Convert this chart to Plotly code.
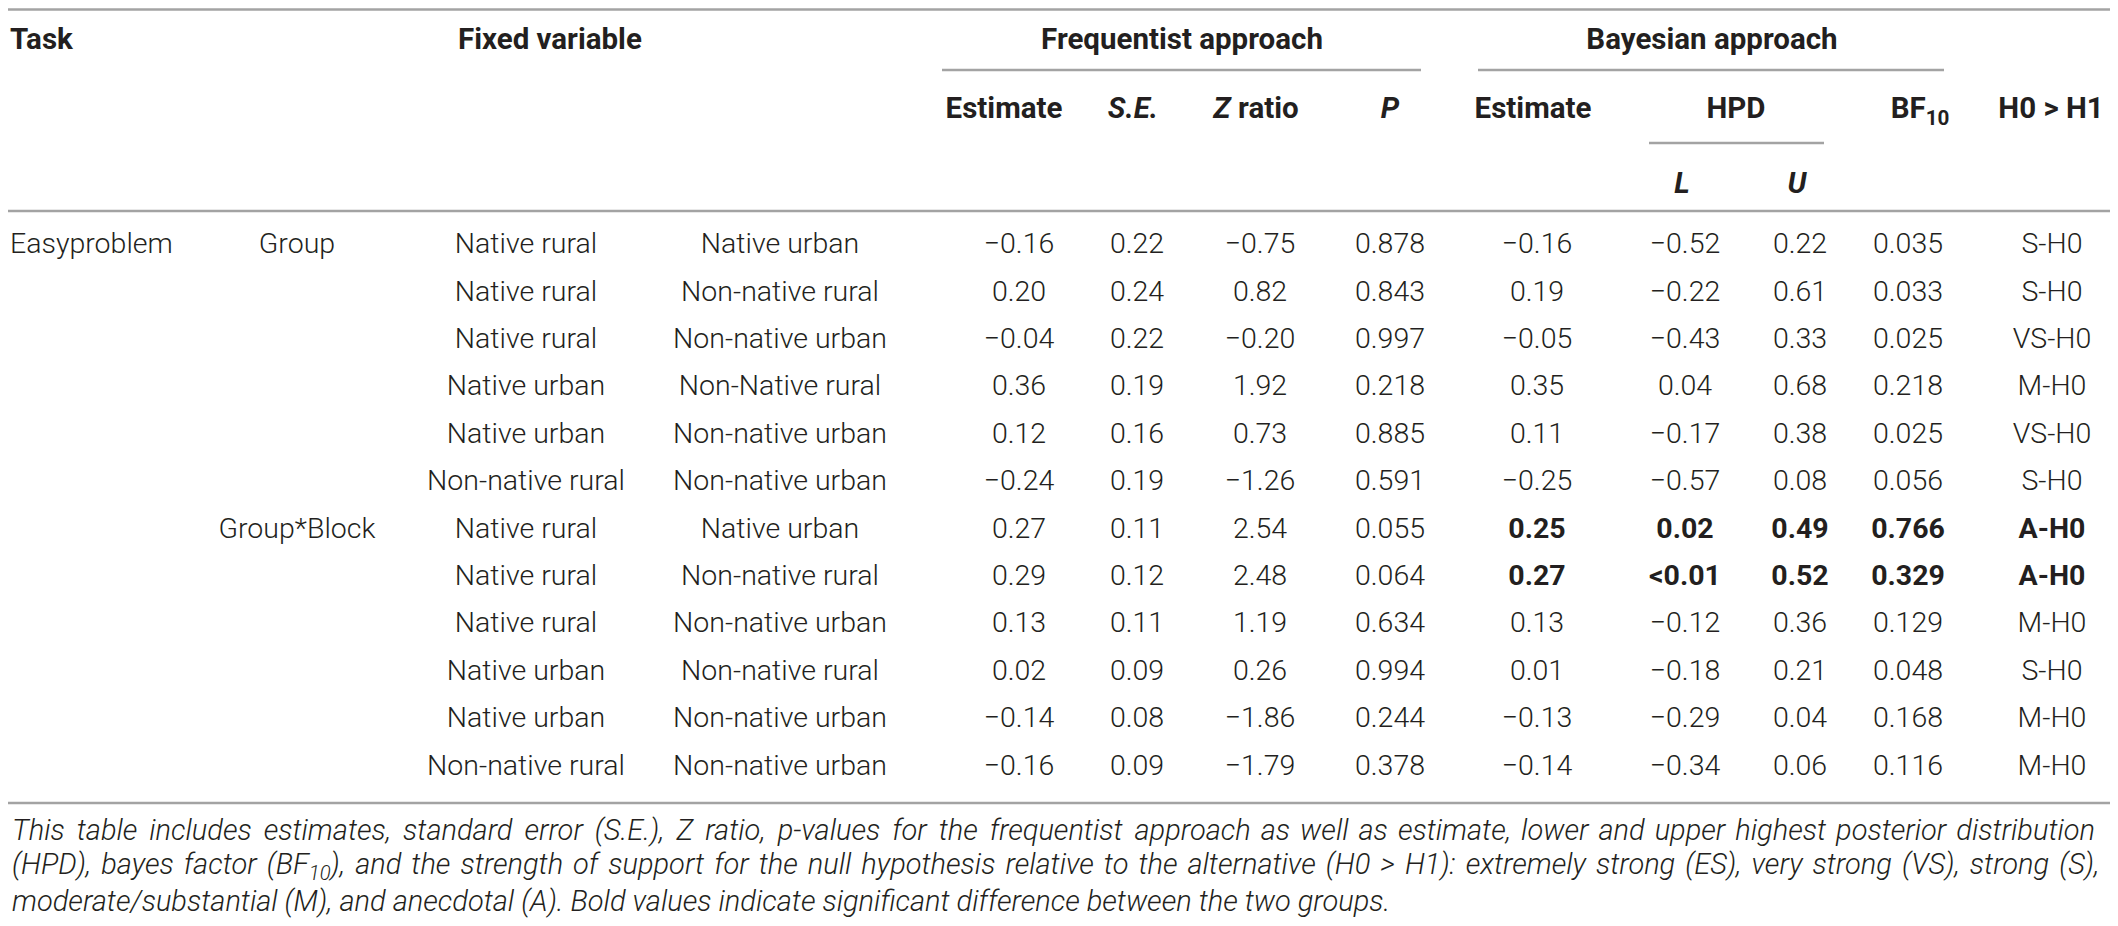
import plotly.graph_objects as go

# ---- table data ----
task = ["Easyproblem"] + [""] * 11
fixed = ["Group", "", "", "", "", "", "Group*Block", "", "", "", "", ""]
level_a = ["Native rural", "Native rural", "Native rural", "Native urban", "Native urban", "Non-native rural",
           "Native rural", "Native rural", "Native rural", "Native urban", "Native urban", "Non-native rural"]
level_b = ["Native urban", "Non-native rural", "Non-native urban", "Non-Native rural", "Non-native urban",
           "Non-native urban", "Native urban", "Non-native rural", "Non-native urban", "Non-native rural",
           "Non-native urban", "Non-native urban"]
freq_est = ["−0.16", "0.20", "−0.04", "0.36", "0.12", "−0.24", "0.27", "0.29", "0.13", "0.02", "−0.14", "−0.16"]
freq_se = ["0.22", "0.24", "0.22", "0.19", "0.16", "0.19", "0.11", "0.12", "0.11", "0.09", "0.08", "0.09"]
z_ratio = ["−0.75", "0.82", "−0.20", "1.92", "0.73", "−1.26", "2.54", "2.48", "1.19", "0.26", "−1.86", "−1.79"]
p_value = ["0.878", "0.843", "0.997", "0.218", "0.885", "0.591", "0.055", "0.064", "0.634", "0.994", "0.244", "0.378"]
bayes_est = ["−0.16", "0.19", "−0.05", "0.35", "0.11", "−0.25", "0.25", "0.27", "0.13", "0.01", "−0.13", "−0.14"]
hpd_low = ["−0.52", "−0.22", "−0.43", "0.04", "−0.17", "−0.57", "0.02", "<0.01", "−0.12", "−0.18", "−0.29", "−0.34"]
hpd_up = ["0.22", "0.61", "0.33", "0.68", "0.38", "0.08", "0.49", "0.52", "0.36", "0.21", "0.04", "0.06"]
bf10 = ["0.035", "0.033", "0.025", "0.218", "0.025", "0.056", "0.766", "0.329", "0.129", "0.048", "0.168", "0.116"]
support = ["S-H0", "S-H0", "VS-H0", "M-H0", "VS-H0", "S-H0", "A-H0", "A-H0", "M-H0", "S-H0", "M-H0", "M-H0"]
bold_rows = [6, 7]  # significant differences (bold in the Bayesian block)

footnote = [
    "This table includes estimates, standard error (S.E.), Z ratio, p-values for the frequentist approach as well as "
    "estimate, lower and upper highest posterior distribution",
    "(HPD), bayes factor (BF<sub>10</sub>), and the strength of support for the null hypothesis relative to the "
    "alternative (H0 &gt; H1): extremely strong (ES), very strong (VS), strong (S),",
    "moderate/substantial (M), and anecdotal (A). Bold values indicate significant difference between the two groups.",
]

# ---- layout constants (page pixel coordinates) ----
W, H = 2118, 926
PAD = 8  # default body margin of the html page
LEFT = PAD + 2
INK = "#231f20"
RULE = "#a3a3a3"
FAM = "Roboto, Liberation Sans, sans-serif"
BODY = dict(family=FAM, size=28.5, color=INK, weight=300)
HEAD = dict(family=FAM, size=29.5, color=INK, weight=700)
NOTE = dict(family=FAM, size=29, color=INK, weight=300)
row_y0, row_dy = 246, 47.4
rows_y = [row_y0 + i * row_dy for i in range(len(level_a))]

columns = [
    (fixed, 297, False), (level_a, 526, False), (level_b, 780, False),
    (freq_est, 1019, False), (freq_se, 1137, False), (z_ratio, 1260, False), (p_value, 1390, False),
    (bayes_est, 1537, True), (hpd_low, 1685, True), (hpd_up, 1800, True), (bf10, 1908, True),
    (support, 2052, True),
]


def justify(line, n_wide):
    # the source lines are justified: widen the word gaps a bit
    # (first n_wide gaps get a six-per-em space, the rest a hair space)
    words = line.split(" ")
    out = words[0]
    for k, w in enumerate(words[1:]):
        out += " " + ("\u2006" if k < n_wide else "\u200a") + w
    return out


fig = go.Figure()

# body cells
fig.add_trace(go.Scatter(x=[LEFT] * len(task), y=rows_y, text=task, mode="text", cliponaxis=False,
                         textposition="middle right", textfont=BODY, hoverinfo="skip"))
for values, cx, can_bold in columns:
    txt = [f"<b>{v}</b>" if (can_bold and i in bold_rows) else v for i, v in enumerate(values)]
    fig.add_trace(go.Scatter(x=[cx] * len(values), y=rows_y, text=txt, mode="text", cliponaxis=False,
                             textposition="middle center", textfont=BODY, hoverinfo="skip"))

# headers
head_left = [("Task", LEFT, 42), ("Fixed variable", 458, 42)]
head_center = [
    ("Frequentist approach", 1182, 42), ("Bayesian approach", 1712, 42),
    ("Estimate", 1004, 111), ("<i>S.E.</i>", 1133, 111), ("<i>Z</i> ratio", 1256, 111), ("<i>P</i>", 1390, 111),
    ("Estimate", 1533, 111), ("HPD", 1736, 111), ("BF<sub>10</sub>", 1920, 111), ("H0 &gt; H1", 2051, 111),
    ("<i>L</i>", 1682, 186), ("<i>U</i>", 1797, 186),
]
fig.add_trace(go.Scatter(x=[h[1] for h in head_left], y=[h[2] for h in head_left],
                         text=[f"<b>{h[0]}</b>" for h in head_left], mode="text", cliponaxis=False,
                         textposition="middle right", textfont=HEAD, hoverinfo="skip"))
fig.add_trace(go.Scatter(x=[h[1] for h in head_center], y=[h[2] for h in head_center],
                         text=[f"<b>{h[0]}</b>" for h in head_center], mode="text", cliponaxis=False,
                         textposition="middle center", textfont=HEAD, hoverinfo="skip"))

# footnote
note_text = [justify(footnote[0], 13), justify(footnote[1], 0), footnote[2]]
for i, txt in enumerate(note_text):
    fig.add_annotation(x=LEFT, y=830 + i * 35.5, text=f"<i>{txt}</i>", showarrow=False,
                       xanchor="left", yanchor="middle", font=NOTE)

# rules
rules = [(PAD, 2112, PAD + 1.5), (PAD, 2112, 211), (PAD, 2112, 803),
         (942, 1421, 70), (1478, 1944, 70), (1649, 1824, 143)]
for x0, x1, y in rules:
    fig.add_shape(type="line", x0=x0, x1=x1, y0=y, y1=y, line=dict(color=RULE, width=2.5))

fig.update_layout(
    width=W - 2 * PAD, height=H - 2 * PAD, margin=dict(l=0, r=0, t=0, b=0),
    paper_bgcolor="white", plot_bgcolor="white", showlegend=False,
    xaxis=dict(range=[PAD, W - PAD], visible=False, fixedrange=True),
    yaxis=dict(range=[H - PAD, PAD], visible=False, fixedrange=True),
)

fig.write_html("out.html")
